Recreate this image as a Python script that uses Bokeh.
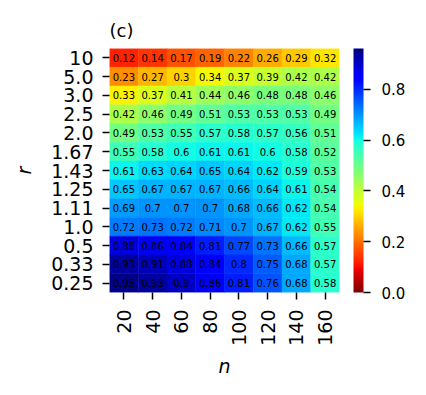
import math
import numpy as np
from bokeh.plotting import figure
from bokeh.models import (ColumnDataSource, LinearColorMapper, ColorBar, FixedTicker,
                          PrintfTickFormatter, FactorRange)
from bokeh.core.properties import value
from bokeh.embed import file_html
from bokeh.resources import INLINE

n_labels = ["20", "40", "60", "80", "100", "120", "140", "160"]
r_labels = ["10", "5.0", "3.0", "2.5", "2.0", "1.67", "1.43", "1.25", "1.11",
            "1.0", "0.5", "0.33", "0.25"]

row_10 = [0.12, 0.14, 0.17, 0.19, 0.22, 0.26, 0.29, 0.32]
row_5_0 = [0.23, 0.27, 0.3, 0.34, 0.37, 0.39, 0.42, 0.42]
row_3_0 = [0.33, 0.37, 0.41, 0.44, 0.46, 0.48, 0.48, 0.46]
row_2_5 = [0.42, 0.46, 0.49, 0.51, 0.53, 0.53, 0.53, 0.49]
row_2_0 = [0.49, 0.53, 0.55, 0.57, 0.58, 0.57, 0.56, 0.51]
row_1_67 = [0.55, 0.58, 0.6, 0.61, 0.61, 0.6, 0.58, 0.52]
row_1_43 = [0.61, 0.63, 0.64, 0.65, 0.64, 0.62, 0.59, 0.53]
row_1_25 = [0.65, 0.67, 0.67, 0.67, 0.66, 0.64, 0.61, 0.54]
row_1_11 = [0.69, 0.7, 0.7, 0.7, 0.68, 0.66, 0.62, 0.54]
row_1_0 = [0.72, 0.73, 0.72, 0.71, 0.7, 0.67, 0.62, 0.55]
row_0_5 = [0.88, 0.86, 0.84, 0.81, 0.77, 0.73, 0.66, 0.57]
row_0_33 = [0.93, 0.91, 0.88, 0.84, 0.8, 0.75, 0.68, 0.57]
row_0_25 = [0.95, 0.93, 0.9, 0.86, 0.81, 0.76, 0.68, 0.58]

rows = [row_10, row_5_0, row_3_0, row_2_5, row_2_0, row_1_67, row_1_43, row_1_25,
        row_1_11, row_1_0, row_0_5, row_0_33, row_0_25]

vmin, vmax = 0.0, 0.96
cbar_ticks = [0.0, 0.2, 0.4, 0.6, 0.8]

# matplotlib "jet" colormap, reversed
def jet_palette(n=256):
    t = np.linspace(0, 1, n)
    r = np.interp(t, [0, 0.35, 0.66, 0.89, 1], [0, 0, 1, 1, 0.5])
    g = np.interp(t, [0, 0.125, 0.375, 0.64, 0.91, 1], [0, 0, 1, 1, 0, 0])
    b = np.interp(t, [0, 0.11, 0.34, 0.65, 1], [0.5, 1, 1, 0, 0])
    return ["#%02x%02x%02x" % (int(round(a * 255)), int(round(c * 255)), int(round(d * 255)))
            for a, c, d in zip(r, g, b)]

palette = jet_palette()[::-1]
mapper = LinearColorMapper(palette=palette, low=vmin, high=vmax)

xs, ys, vals, txt = [], [], [], []
for rl, row in zip(r_labels, rows):
    for nl, v in zip(n_labels, row):
        xs.append(nl)
        ys.append(rl)
        vals.append(v)
        txt.append("{:g}".format(v))
src = ColumnDataSource(dict(x=xs, y=ys, v=vals, t=txt))

p = figure(x_range=FactorRange(*n_labels), y_range=FactorRange(*r_labels[::-1]),
           frame_width=230, frame_height=244,
           min_border_left=109, min_border_right=80, min_border_top=48, min_border_bottom=95,
           output_backend="svg", toolbar_location=None, title="(c)")

p.rect(x="x", y="y", width=1, height=1, source=src,
       fill_color={"field": "v", "transform": mapper},
       line_color={"field": "v", "transform": mapper}, line_width=0.5)
p.text(x="x", y="y", text="t", source=src, text_align="center", text_baseline="middle",
       text_font=value("DejaVu Sans"), text_font_size="10px", text_color="black")

p.title.text_font = "DejaVu Sans"
p.title.text_font_size = "18px"
p.title.text_font_style = "normal"
p.title.text_color = "black"
p.title.align = "left"
p.title.standoff = 16

p.grid.grid_line_color = None
p.outline_line_color = None
p.background_fill_color = None
p.border_fill_color = "white"

for ax in (p.xaxis[0], p.yaxis[0]):
    ax.axis_line_color = None
    ax.major_tick_line_color = "black"
    ax.major_tick_line_width = 1.5
    ax.major_tick_out = 7
    ax.major_tick_in = 0
    ax.minor_tick_line_color = None
    ax.major_label_text_font = "DejaVu Sans"
    ax.major_label_text_font_size = "19px"
    ax.major_label_text_color = "black"
    ax.axis_label_text_font = "DejaVu Sans"
    ax.axis_label_text_font_size = "19px"
    ax.axis_label_text_font_style = "italic"
    ax.axis_label_text_color = "black"

p.xaxis.axis_label = "n"
p.yaxis.axis_label = "r"
p.xaxis.major_label_orientation = math.pi / 2
p.xaxis.major_label_standoff = 10
p.yaxis.major_label_standoff = 9
p.xaxis.axis_label_standoff = 6
p.yaxis.axis_label_standoff = 13

cb = ColorBar(color_mapper=mapper, ticker=FixedTicker(ticks=cbar_ticks),
              formatter=PrintfTickFormatter(format="%.1f"),
              width=10, height=244, padding=0, margin=0, location=(14, 0),
              major_tick_in=0, major_tick_out=7, major_tick_line_color="black",
              major_tick_line_width=1.5, minor_tick_line_color=None,
              label_standoff=11, bar_line_color=None, border_line_color=None,
              background_fill_color=None,
              major_label_text_font="DejaVu Sans", major_label_text_font_size="15px",
              major_label_text_color="black")
p.add_layout(cb, "right")

open("out.html", "w").write(file_html(p, INLINE))
